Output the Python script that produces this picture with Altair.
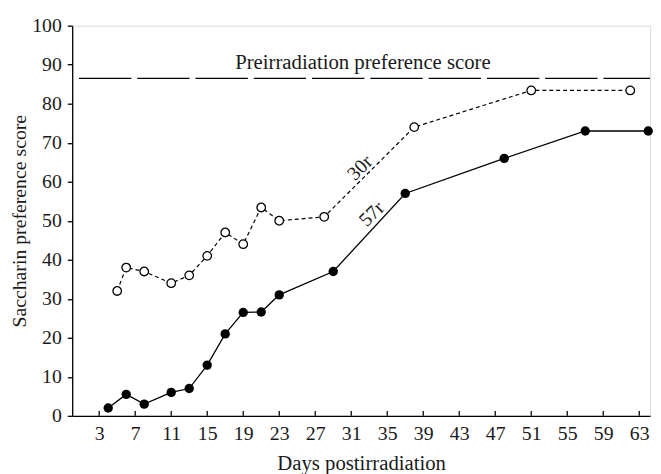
import altair as alt
import pandas as pd

# Data
days_57r = [4, 6, 8, 11, 13, 15, 17, 19, 21, 23, 29, 37, 48, 57, 64]
vals_57r = [2, 5.5, 3, 6, 7, 13, 21, 26.5, 26.6, 31, 37, 57, 66, 73, 73]

days_30r = [5, 6, 8, 11, 13, 15, 17, 19, 21, 23, 28, 38, 51, 62]
vals_30r = [32, 38, 37, 34, 36, 41, 47, 44, 53.4, 50, 51, 74, 83.4, 83.4]

pre_days = [0.75, 64.5]
pre_score = 86.5
pre_label = "Preirradiation preference score"

x_ticks = list(range(3, 64, 4))
y_ticks = list(range(0, 101, 10))

FONT = "Liberation Serif"
FS = 20
TXT = "#1a1a1a"

d57 = pd.DataFrame({"day": days_57r, "score": vals_57r})
d30 = pd.DataFrame({"day": days_30r, "score": vals_30r})
dpre = pd.DataFrame({"day": pre_days, "score": [pre_score] * len(pre_days)})
dticks = pd.DataFrame({"day": x_ticks})

xscale = alt.Scale(domain=[0, 64.2], nice=False, zero=False)
yscale = alt.Scale(domain=[0, 100], nice=False)

xaxis = alt.Axis(values=x_ticks, ticks=False, tickSize=0, labelPadding=8,
                 labelOverlap=False, labelFlush=False,
                 title="Days postirradiation", titlePadding=9,
                 grid=False, domainColor="black", domainWidth=1.3,
                 labelFont=FONT, labelFontSize=FS, labelColor=TXT,
                 titleFont=FONT, titleFontSize=21, titleFontWeight="normal",
                 titleColor=TXT)
yaxis = alt.Axis(values=y_ticks, tickSize=5, tickColor="black", tickWidth=1.3,
                 labelPadding=6, labelOverlap=False, labelFlush=False,
                 title="Saccharin preference score",
                 titlePadding=2, grid=False, domainColor="black", domainWidth=1.3,
                 labelFont=FONT, labelFontSize=FS, labelColor=TXT,
                 titleFont=FONT, titleFontSize=FS, titleFontWeight="normal",
                 titleColor=TXT)

X = alt.X("day:Q", scale=xscale, axis=xaxis)
Y = alt.Y("score:Q", scale=yscale, axis=yaxis)

tick_marks = alt.Chart(dticks).mark_rule(color="black", strokeWidth=1.3).encode(
    x=X, y=alt.value(395), y2=alt.value(390))

pre_line = alt.Chart(dpre).mark_line(color="black", strokeWidth=1.3,
                                      strokeDash=[53, 6], clip=True).encode(x=X, y=Y)

pre_text = alt.Chart(pd.DataFrame({"day": [32.3], "score": [pre_score], "t": [pre_label]})).mark_text(
    font=FONT, fontSize=21, color=TXT, baseline="alphabetic", dy=-9).encode(
    x=X, y=Y, text="t:N")

line57 = alt.Chart(d57).mark_line(color="black", strokeWidth=1.3).encode(x=X, y=Y)
pts57 = alt.Chart(d57).mark_circle(color="black", size=90, opacity=1).encode(x=X, y=Y)

line30 = alt.Chart(d30).mark_line(color="black", strokeWidth=1.2, strokeDash=[4, 3]).encode(x=X, y=Y)
pts30 = alt.Chart(d30).mark_point(shape="circle", filled=True, fill="white",
                                  stroke="black", strokeWidth=1.3, size=75, opacity=1).encode(x=X, y=Y)

lab = pd.DataFrame({"day": [32.0, 33.3], "score": [63.5, 51.7], "t": ["30r", "57r"]})
labels = alt.Chart(lab).mark_text(font=FONT, fontSize=FS, color=TXT, angle=315).encode(
    x=X, y=Y, text="t:N")

chart = alt.layer(tick_marks, pre_line, pre_text, line30, pts30,
                  line57, pts57, labels).properties(
    width=585, height=395,
    autosize=alt.AutoSizeParams(type="none"),
    padding={"left": 65, "top": 15, "right": 3, "bottom": 56},
).configure_view(strokeWidth=0).configure(background="white")

chart.save("out.html", embed_options={"renderer": "svg", "actions": False})
